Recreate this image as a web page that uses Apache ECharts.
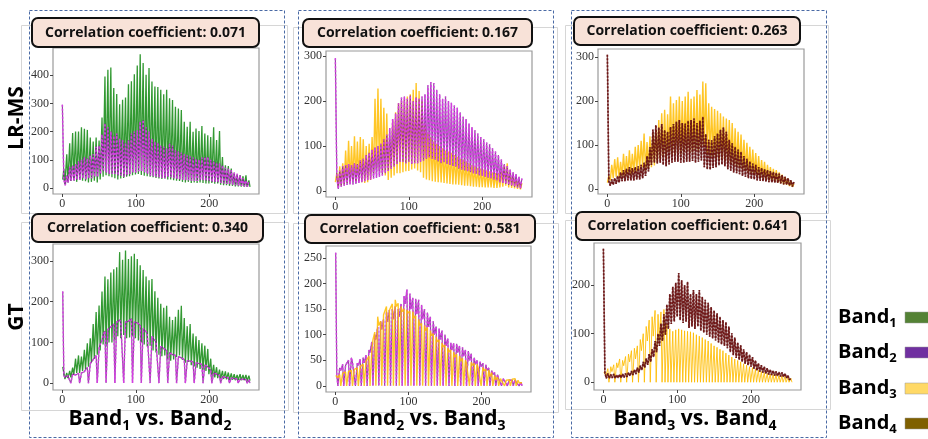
<!DOCTYPE html>
<html><head><meta charset="utf-8">
<script src="https://cdn.jsdelivr.net/npm/echarts@6/dist/echarts.min.js"></script>
<style>html,body{margin:0;padding:0;background:#fff}#c{width:928px;height:439px}</style>
</head><body><div id="c"></div>
<script>
// ---------- data (histogram peaks at bins 2,6,...,254 ; troughs at bins 0,4,...,252) ----------
const corrValues = ['0.071','0.167','0.263','0.340','0.581','0.641'];
const rowLabels = ['LR-MS','GT'];
const colLabels = [['1','2'],['2','3'],['3','4']];
const legendBands = ['1','2','3','4'];
const xTicks = [0,100,200];

// Panel 1: LR-MS, Band1 vs Band2
const lr12_b1_peak = [68,120,159,195,200,200,215,210,206,179,165,179,168,250,395,419,427,354,333,297,313,321,368,378,403,434,474,443,401,425,377,360,358,348,332,348,318,312,288,282,276,235,217,235,199,211,202,220,193,187,181,215,170,202,110,81,78,69,51,45,45,42,45,27];
const lr12_b1_trough = [30,15,20,25,28,22,30,26,24,20,22,26,20,30,40,45,42,38,35,30,34,36,40,42,45,48,50,46,44,42,40,38,36,34,32,34,30,30,28,26,25,22,20,22,18,20,18,20,18,16,16,18,15,16,12,10,10,8,8,6,6,5,5,4];
const lr12_b2_peak = [30,45,75,80,85,95,100,110,105,115,120,146,150,190,229,215,200,185,193,175,170,160,170,193,200,205,235,241,215,200,175,164,160,150,146,140,158,150,134,130,125,120,116,112,108,104,100,108,110,110,100,95,90,87,80,72,68,63,55,50,45,35,27,22];
const lr12_b2_trough = [295,10,20,25,25,30,30,35,30,35,35,40,40,50,60,55,50,50,50,45,45,40,45,50,55,55,60,60,55,50,45,42,40,38,36,35,40,38,35,32,30,30,28,28,26,25,25,28,28,26,24,22,22,20,18,16,15,14,12,10,9,8,6,5];
// Panel 2: LR-MS, Band2 vs Band3
const lr23_b3_peak = [40,55,62,90,112,100,122,110,120,115,100,105,120,205,228,205,185,172,115,158,175,195,200,205,210,215,225,240,222,200,150,130,120,110,105,100,95,90,88,85,80,76,72,70,66,62,58,55,52,50,48,46,44,42,40,40,45,58,62,42,35,28,22,18];
const lr23_b3_trough = [20,10,12,15,18,20,22,20,22,20,18,20,25,40,50,45,40,35,25,30,35,40,40,42,44,45,48,50,46,42,30,26,24,22,21,20,19,18,17,16,15,15,14,13,12,12,11,10,10,9,9,8,8,8,7,7,8,10,12,8,7,6,5,4];
const lr23_b2_peak = [30,45,55,58,60,58,62,60,68,72,80,85,92,97,100,105,115,125,140,160,172,195,208,210,205,212,200,208,205,210,215,235,242,240,225,215,205,210,200,196,190,185,175,165,160,150,142,135,128,120,115,108,104,95,88,80,70,60,55,48,42,38,32,28];
const lr23_b2_trough = [295,5,10,12,14,15,15,16,18,20,22,24,26,28,30,32,35,40,45,50,55,60,65,65,62,65,60,62,62,65,68,72,75,72,70,66,62,64,60,58,56,54,50,48,46,44,42,40,38,35,34,32,30,28,26,24,20,18,16,14,12,10,8,6];
// Panel 3: LR-MS, Band3 vs Band4
const lr34_b3_peak = [30,55,68,72,62,80,75,88,80,96,100,110,126,107,120,128,134,157,172,180,170,210,195,202,210,200,210,221,205,210,225,215,244,240,195,187,182,178,172,165,160,157,150,138,130,124,112,105,96,90,82,75,66,62,55,50,46,43,38,33,28,24,18,12];
const lr34_b3_trough = [15,20,25,28,26,30,30,34,32,38,40,44,50,42,48,50,54,62,68,72,68,84,78,80,84,80,84,88,82,84,90,86,96,96,78,75,72,70,68,66,64,62,60,55,52,50,45,42,38,36,33,30,26,25,22,20,18,17,15,13,11,10,7,5];
const lr34_b4_peak = [18,22,25,30,38,43,46,50,48,50,52,55,60,75,95,135,145,140,148,134,130,141,148,153,157,150,149,155,157,160,150,155,164,125,112,111,120,126,135,140,130,112,104,96,90,85,75,69,63,58,55,50,48,45,43,41,39,37,35,32,28,25,20,16];
const lr34_b4_trough = [305,8,10,12,15,18,18,20,20,20,22,22,25,30,40,55,60,58,60,55,52,56,60,62,62,60,60,62,62,64,60,62,65,50,45,44,48,50,54,56,52,45,42,38,36,34,30,28,25,23,22,20,19,18,17,16,15,15,14,13,11,10,8,6];
// Panel 4: GT, Band1 vs Band2
const gt12_b1_peak = [37,25,30,38,60,68,65,82,98,110,145,175,191,225,262,255,272,280,285,322,303,326,305,312,318,305,290,278,262,253,256,226,210,195,185,190,163,155,163,180,190,160,140,145,122,115,106,98,92,84,60,45,39,33,30,29,26,24,22,20,22,20,20,18];
const gt12_b1_trough = [40,10,12,14,20,25,25,30,35,40,50,60,70,80,95,90,100,100,105,115,110,118,110,112,115,110,105,100,95,90,92,80,75,70,66,68,58,55,58,64,68,57,50,52,44,41,38,35,33,30,22,16,14,12,11,10,9,8,8,7,8,7,7,6];
const gt12_b2_peak = [20,18,20,22,20,24,25,28,38,48,58,68,85,106,128,132,138,145,150,155,148,150,152,158,150,148,142,135,128,120,115,106,98,90,85,80,75,70,68,65,62,58,55,54,52,50,48,46,45,40,32,25,22,18,16,14,13,12,11,10,10,9,9,8];
const gt12_b2_trough = [225,14,18,0,20,22,0,26,33,0,52,62,0,95,118,0,134,140,0,150,150,0,150,152,0,148,145,0,130,124,0,110,102,0,88,82,0,72,69,0,63,60,0,54,53,0,49,47,0,42,36,0,23,20,0,15,13,0,11,10,0,9,9,0];
// Panel 5: GT, Band2 vs Band3
const gt23_b2_peak = [22,35,42,40,50,55,48,44,52,55,60,70,86,100,115,126,130,145,148,150,155,150,160,175,188,180,172,170,168,158,150,143,135,126,116,112,108,100,92,84,83,82,78,75,70,68,63,55,50,47,44,41,35,30,26,22,17,14,12,11,11,12,9,7];
const gt23_b2_trough = [260,0,30,0,40,0,45,0,40,0,45,0,65,0,90,0,110,0,125,0,130,0,135,0,160,0,150,0,140,0,130,0,115,0,100,0,90,0,78,0,70,0,65,0,58,0,50,0,42,0,38,0,30,0,22,0,14,0,10,0,9,0,7,0];
const gt23_b3_peak = [18,22,25,27,28,30,32,35,38,42,48,58,72,105,135,126,139,155,148,160,168,161,155,150,148,146,145,137,130,122,118,114,108,102,96,90,84,80,74,70,66,62,58,54,50,47,46,44,42,38,36,33,31,26,20,17,14,12,11,12,13,14,11,8];
const gt23_b3_trough = [20,16,0,24,0,27,0,31,0,38,0,50,0,90,0,118,0,140,0,150,0,155,0,145,0,142,0,132,0,118,0,108,0,98,0,86,0,76,0,66,0,56,0,48,0,44,0,40,0,35,0,29,0,18,0,12,0,10,0,12,0,10,0,6];
// Panel 6: GT, Band3 vs Band4
const gt34_b3_peak = [22,28,32,36,40,48,45,53,58,65,70,75,88,100,115,128,135,148,140,145,150,120,110,105,108,110,108,106,105,104,102,98,95,92,88,85,80,75,72,68,65,60,56,52,48,45,42,38,35,32,30,27,25,22,20,18,17,16,15,14,13,12,10,8];
const gt34_b3_trough = [20,14,0,22,0,30,0,34,0,42,0,48,0,65,0,85,0,95,0,90,0,0,0,0,0,0,0,0,0,0,0,0,0,0,0,0,0,0,0,0,0,0,0,0,0,0,0,0,0,0,0,0,0,0,0,0,0,0,0,0,0,0,0,0];
const gt34_b4_peak = [20,18,16,17,15,16,17,18,20,23,26,30,34,42,49,58,68,85,100,121,140,160,182,197,205,225,210,200,207,182,190,182,190,176,170,164,155,148,142,135,128,124,115,101,92,82,76,68,62,57,52,45,39,35,32,29,26,24,22,21,20,18,14,8];
const gt34_b4_trough = [275,8,8,9,8,9,9,10,11,13,15,17,20,25,30,36,42,52,62,75,85,98,110,120,125,135,128,122,125,112,115,110,115,106,102,98,94,90,86,82,78,75,70,62,56,50,46,42,38,35,32,28,24,22,20,18,16,15,14,13,12,11,9,5];

const yTicks = [[0,100,200,300,400],[0,100,200,300],[0,100,200,300],[0,100,200,300],[0,50,100,150,200,250],[0,100,200]];

// ---------- styles / layout ----------
const STY = {
  b1: [{color:'#0e870e', width:1.3, type:'solid', opacity:0.85}],
  b2: [{color:'#7a1f8c', width:1.2, type:'solid', opacity:0.8},{color:'#d83ee6', width:1.5, type:[2,2], opacity:0.95}],
  b3: [{color:'#ffbc00', width:1.4, type:'solid', opacity:0.85}],
  b3thin: [{color:'#ffbc00', width:1.0, type:'solid', opacity:0.85}],
  b4: [{color:'#5a0e0e', width:1.3, type:'solid', opacity:0.7},{color:'#6e1414', width:1.7, type:[2,1.5], opacity:0.95}]
};
const panels = [
  {grid:{left:53,top:48,width:206,height:146}, y:[-21,496], s:[['b1',lr12_b1_trough,lr12_b1_peak,'spike'],['b2',lr12_b2_trough,lr12_b2_peak,'zig']]},
  {grid:{left:326,top:51,width:206,height:146}, y:[-13,311], s:[['b3',lr23_b3_trough,lr23_b3_peak,'zig'],['b2',lr23_b2_trough,lr23_b2_peak,'zig']]},
  {grid:{left:598,top:49,width:206,height:145}, y:[-11,318], s:[['b3',lr34_b3_trough,lr34_b3_peak,'zig'],['b4',lr34_b4_trough,lr34_b4_peak,'zig']]},
  {grid:{left:53,top:244,width:206,height:146}, y:[-17,342], s:[['b1',gt12_b1_trough,gt12_b1_peak,'spike'],['b2',gt12_b2_trough,gt12_b2_peak,'spike']]},
  {grid:{left:326,top:246,width:205,height:146}, y:[-12,273], s:[['b2',gt23_b2_trough,gt23_b2_peak,'spike'],['b3',gt23_b3_trough,gt23_b3_peak,'spike']]},
  {grid:{left:594,top:243,width:207,height:147}, y:[-16,287], s:[['b3thin',gt34_b3_trough,gt34_b3_peak,'spike'],['b4',gt34_b4_trough,gt34_b4_peak,'zig']]}
];
const titleBoxes = [[32,18,227,29],[303,19,229,28],[574,17,226,28],[32,214,231,28],[305,215,230,28],[576,212,224,28]];
const dashedBoxes = [[29,10,255,427],[298,10,255,427],[571,10,255,427]];
const grayFrames = [[21,25,266,188],[293,27,264,186],[565,25,263,188],[21,222,267,188],[293,223,265,189],[565,220,265,189]];
const legendColors = ['#548235','#7030a0','#ffd966','#7f6000'];

function combine(tr, pk, mode){
  const out=[];
  for(let i=0;i<pk.length;i++){
    if(mode==='zig'){ out.push([i*4,tr[i]]); out.push([i*4+2,pk[i]]); }
    else {
      const nxt = i+1<tr.length ? tr[i+1] : tr[i];
      out.push([i*4+0.5,tr[i]]); out.push([i*4+2,pk[i]]); out.push([i*4+3.5,nxt]);
    }
  }
  return out;
}

const grids=[], xAxes=[], yAxes=[], series=[];
const labelFont = {fontFamily:"'Liberation Serif','DejaVu Serif',serif", fontSize:12, color:'#333'};
panels.forEach((p,i)=>{
  grids.push(Object.assign({show:true, borderColor:'#9a9a9a', borderWidth:1.2, backgroundColor:'#fff'}, p.grid));
  xAxes.push({type:'value', gridIndex:i, min:-12.75, max:267.75, position:'bottom',
    axisLine:{show:false, onZero:false}, splitLine:{show:false},
    axisTick:{show:true, customValues:xTicks, length:3, lineStyle:{color:'#444'}},
    axisLabel:Object.assign({customValues:xTicks, margin:4}, labelFont)});
  yAxes.push({type:'value', gridIndex:i, min:p.y[0], max:p.y[1], position:'left',
    axisLine:{show:false, onZero:false}, splitLine:{show:false},
    axisTick:{show:true, customValues:yTicks[i], length:3, lineStyle:{color:'#444'}},
    axisLabel:Object.assign({customValues:yTicks[i], margin:4}, labelFont)});
  p.s.forEach(([k,tr,pk,mode])=>{
    const d = combine(tr,pk,mode);
    STY[k].forEach(ls=>{
      series.push({type:'line', xAxisIndex:i, yAxisIndex:i, data:d, showSymbol:false, symbol:'none', lineStyle:ls, silent:true});
    });
  });
});

// text measuring for subscript labels
const mctx = document.createElement('canvas').getContext('2d');
function measure(t, fs){ mctx.font = 'bold '+fs+'px "Open Sans"'; return mctx.measureText(t).width; }
function subLabel(parts, x, y, fs, sfs, align){
  const ws = parts.map(p=>measure(p[0], p[1]?sfs:fs));
  const total = ws.reduce((a,b)=>a+b,0);
  let cx = align==='center' ? x-total/2 : x;
  const out=[];
  parts.forEach((p,j)=>{
    out.push({type:'text', x:cx, y: p[1] ? y+fs*0.33 : y, style:{text:p[0], fontFamily:'Open Sans', fontWeight:'bold', fontSize:p[1]?sfs:fs, fill:'#000', align:'left', verticalAlign:'middle'}});
    cx += ws[j];
  });
  return out;
}

const graphic = [];
grayFrames.forEach(r=>graphic.push({type:'rect', shape:{x:r[0]+0.5,y:r[1]+0.5,width:r[2],height:r[3]}, style:{fill:null, stroke:'#d6d6d6', lineWidth:1}, z:-10}));
dashedBoxes.forEach(r=>graphic.push({type:'rect', shape:{x:r[0]+0.5,y:r[1]+0.5,width:r[2],height:r[3]}, style:{fill:null, stroke:'#4a6aa5', lineWidth:1, lineDash:[3,2]}, z:-5}));
titleBoxes.forEach((r,i)=>{
  graphic.push({type:'rect', shape:{x:r[0],y:r[1],width:r[2],height:r[3],r:6}, style:{fill:'#f8e2d8', stroke:'#111', lineWidth:2}, z:10});
  graphic.push({type:'text', x:r[0]+r[2]/2, y:r[1]+r[3]/2+0.5, style:{text:'Correlation coefficient: '+corrValues[i], fontFamily:'Open Sans', fontWeight:'bold', fontSize:14, fill:'#111', align:'center', verticalAlign:'middle'}, z:11});
});
graphic.push({type:'text', x:17, y:118, rotation:Math.PI/2, style:{text:rowLabels[0], fontFamily:'Open Sans', fontWeight:'bold', fontSize:21, fill:'#000', align:'center', verticalAlign:'middle'}});
graphic.push({type:'text', x:17, y:317, rotation:Math.PI/2, style:{text:rowLabels[1], fontFamily:'Open Sans', fontWeight:'bold', fontSize:21, fill:'#000', align:'center', verticalAlign:'middle'}});
const colCenters = [150,424,695];
colLabels.forEach((c,i)=>{
  subLabel([['Band',0],[c[0],1],[' vs. Band',0],[c[1],1]], colCenters[i], 419, 21, 14, 'center').forEach(g=>graphic.push(g));
});
const legendY = [317,352,388,423];
legendBands.forEach((b,i)=>{
  subLabel([['Band',0],[b,1]], 838, legendY[i], 20, 13, 'left').forEach(g=>graphic.push(g));
  graphic.push({type:'rect', shape:{x:905, y:legendY[i]-5, width:24, height:11}, style:{fill:legendColors[i], stroke:'#999', lineWidth:0.5}});
});

const chart = echarts.init(document.getElementById('c'), null, {renderer:'canvas'});
chart.setOption({animation:false, backgroundColor:'#fff', grid:grids, xAxis:xAxes, yAxis:yAxes, series:series, graphic:graphic});
</script></body></html>
